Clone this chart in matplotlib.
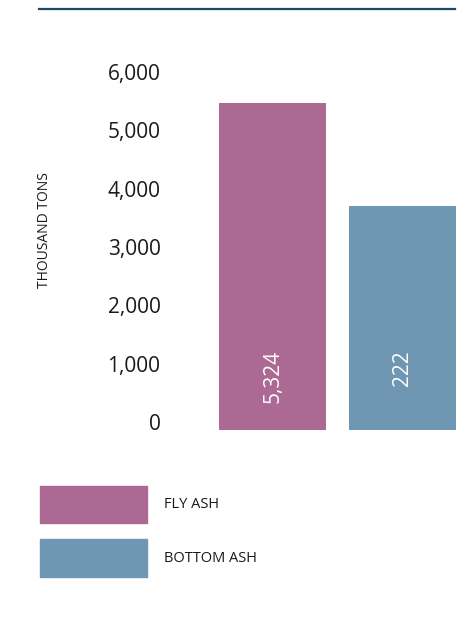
import matplotlib.pyplot as plt
from matplotlib.patches import Rectangle
from matplotlib.lines import Line2D

plt.rcParams['font.family'] = ['Open Sans', 'DejaVu Sans']

categories = ['FLY ASH', 'BOTTOM ASH']
heights = [5600, 3835]
bar_labels = ['5,324', '222']
colors = ['#ab6994', '#6f96b2']
yticks = [0, 1000, 2000, 3000, 4000, 5000, 6000]

W, H = 467, 633
fig = plt.figure(figsize=(W / 100, H / 100), dpi=100)

# axes in pixel terms
left, right, bottom, top = 166, 467, 430, 80
ax = fig.add_axes([left / W, (H - bottom) / H, (right - left) / W, (bottom - top) / H])

x = [0, 1]
ax.bar(x, heights, width=0.823, color=colors)
ax.set_xlim(-0.821, 1.495)
ax.set_ylim(0, 6000)

for xi, lab in zip(x, bar_labels):
    ax.text(xi, 1371, lab, rotation=90, ha='center', va='top',
            color='white', fontsize=15)

ax.set_yticks(yticks)
ax.set_yticklabels([f'{v:,}' for v in yticks], fontsize=15, color='#1a1a1a')
for t in ax.get_yticklabels():
    t.set_verticalalignment('baseline')
ax.tick_params(axis='y', length=0, pad=4)
ax.set_xticks([])
for s in ax.spines.values():
    s.set_visible(False)

fig.text(45 / W, 1 - 230 / H, 'THOUSAND TONS', rotation=90, ha='center',
         va='center', fontsize=10, color='#1a1a1a')

# top rule
fig.add_artist(Line2D([39 / W, 455 / W], [1 - 8.5 / H, 1 - 8.5 / H],
                      color='#1d4866', lw=1.6))

# legend
sw_y = [485.7, 539]
for cat, col, y0 in zip(categories, colors, sw_y):
    fig.add_artist(Rectangle((40 / W, 1 - (y0 + 37.5) / H), 107 / W, 37.5 / H,
                             color=col, transform=fig.transFigure))
    fig.text(164 / W, 1 - (y0 + 19) / H, cat, ha='left', va='center',
             fontsize=10.5, color='#1a1a1a')

fig.savefig('out.png', dpi=100)
